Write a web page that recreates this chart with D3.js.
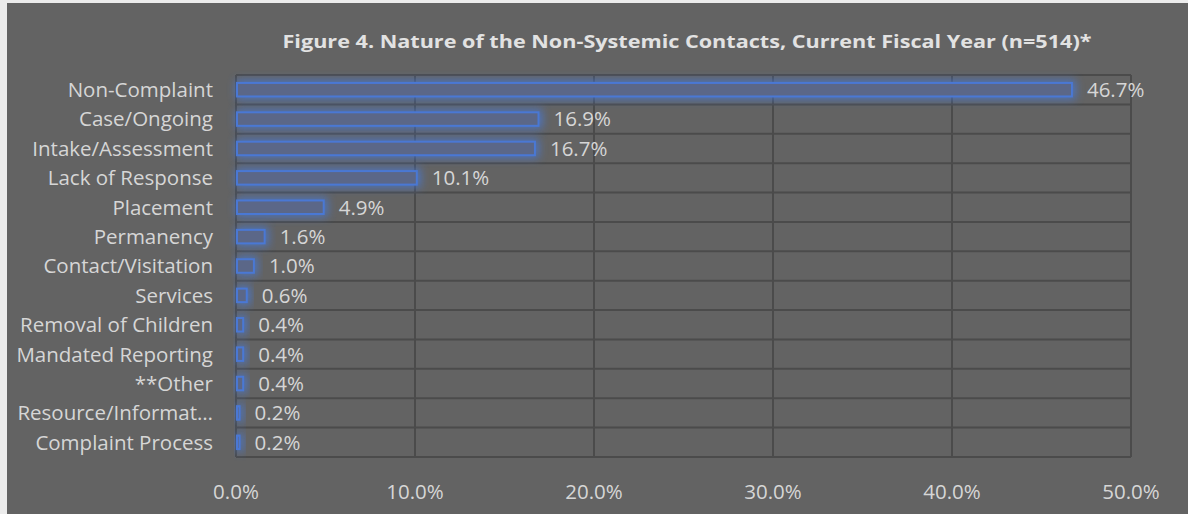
<html>
<head>
<script src="https://d3js.org/d3.v7.min.js"></script>
<style>
body { margin: 0; background: #ececec; }
text { font-family: "Open Sans", "Liberation Sans", sans-serif; }
</style>
</head>
<body>
<div id="chart"></div>
<script>
var categories = ["Non-Complaint", "Case/Ongoing", "Intake/Assessment", "Lack of Response",
	"Placement", "Permanency", "Contact/Visitation", "Services", "Removal of Children",
	"Mandated Reporting", "**Other", "Resource/Informat\u2026", "Complaint Process"]
var values = [46.7, 16.9, 16.7, 10.1, 4.9, 1.6, 1.0, 0.6, 0.4, 0.4, 0.4, 0.2, 0.2]
var xTicks = [0, 10, 20, 30, 40, 50]
var title = "Figure 4. Nature of the Non-Systemic Contacts, Current Fiscal Year (n=514)*"

var width = 1188, height = 514
var plotLeft = 236, plotRight = 1131, plotTop = 75, plotBottom = 457

var svg = d3.select("#chart").append("svg")
	.attr("width", width)
	.attr("height", height)

var defs = svg.append("defs")
var glow = defs.append("filter").attr("id", "glow")
	.attr("x", "-20%").attr("y", "-100%").attr("width", "140%").attr("height", "300%")
glow.append("feGaussianBlur").attr("in", "SourceGraphic").attr("stdDeviation", 4)

// chart frame
svg.append("rect")
	.attr("x", 7).attr("y", 3)
	.attr("width", width - 7).attr("height", height - 3)
	.style("fill", "#636363")

var x = d3.scaleLinear().domain([0, 50]).range([plotLeft, plotRight])
var y = d3.scaleBand().domain(categories).range([plotTop, plotBottom]).paddingInner(0.54).paddingOuter(0.27)
var rowY = d3.scaleBand().domain(categories).range([plotTop, plotBottom])

// gridlines
var grid = svg.append("g")
grid.selectAll(".vline").data(xTicks).enter().append("line")
	.attr("x1", function(d) { return x(d) }).attr("x2", function(d) { return x(d) })
	.attr("y1", plotTop).attr("y2", plotBottom)
	.style("stroke", "#4b4b4b").style("stroke-width", 2)
grid.selectAll(".hline").data(categories.concat([null])).enter().append("line")
	.attr("x1", plotLeft).attr("x2", plotRight)
	.attr("y1", function(d) { return d === null ? plotBottom : rowY(d) })
	.attr("y2", function(d) { return d === null ? plotBottom : rowY(d) })
	.style("stroke", "#4b4b4b").style("stroke-width", 2)

// bars: glow, then fill + outline
var bars = svg.append("g")
bars.selectAll(".glow").data(values).enter().append("rect")
	.attr("x", x(0))
	.attr("y", function(d, i) { return y(categories[i]) - 3 })
	.attr("width", function(d) { return Math.max(x(d) - x(0), 2) + 4 })
	.attr("height", y.bandwidth() + 6)
	.style("fill", "#4a78d0")
	.style("opacity", 0.8)
	.attr("filter", "url(#glow)")
bars.selectAll(".bar").data(values).enter().append("rect")
	.attr("x", x(0) + 1)
	.attr("y", function(d, i) { return y(categories[i]) })
	.attr("width", function(d) { return Math.max(x(d) - x(0), 3) - 1 })
	.attr("height", y.bandwidth())
	.style("fill", "#5b6788")
	.style("stroke", "#4a78d4")
	.style("stroke-width", 2)

// value labels
svg.append("g").selectAll("text").data(values).enter().append("text")
	.attr("x", function(d) { return x(d) + 15 })
	.attr("y", function(d, i) { return y(categories[i]) + y.bandwidth() / 2 })
	.attr("dy", "0.36em")
	.style("fill", "#d6d6d6")
	.style("font-size", "20.5px")
	.text(function(d) { return d.toFixed(1) + "%" })

// category labels
svg.append("g").selectAll("text").data(categories).enter().append("text")
	.attr("x", 213)
	.attr("y", function(d) { return rowY(d) + rowY.bandwidth() / 2 })
	.attr("dy", "0.36em")
	.attr("text-anchor", "end")
	.style("fill", "#d6d6d6")
	.style("font-size", "20.5px")
	.text(function(d) { return d })

// x axis labels
svg.append("g").selectAll("text").data(xTicks).enter().append("text")
	.attr("x", function(d) { return x(d) })
	.attr("y", 492)
	.attr("dy", "0.36em")
	.attr("text-anchor", "middle")
	.style("fill", "#d6d6d6")
	.style("font-size", "20.5px")
	.text(function(d) { return d.toFixed(1) + "%" })

// title
svg.append("text")
	.attr("x", 687)
	.attr("y", 42)
	.attr("dy", "0.36em")
	.attr("text-anchor", "middle")
	.style("fill", "#e2e2e2")
	.style("font-size", "17.5px")
	.style("font-weight", "bold")
	.attr("textLength", 809)
	.attr("lengthAdjust", "spacingAndGlyphs")
	.text(title)
</script>
</body>
</html>
